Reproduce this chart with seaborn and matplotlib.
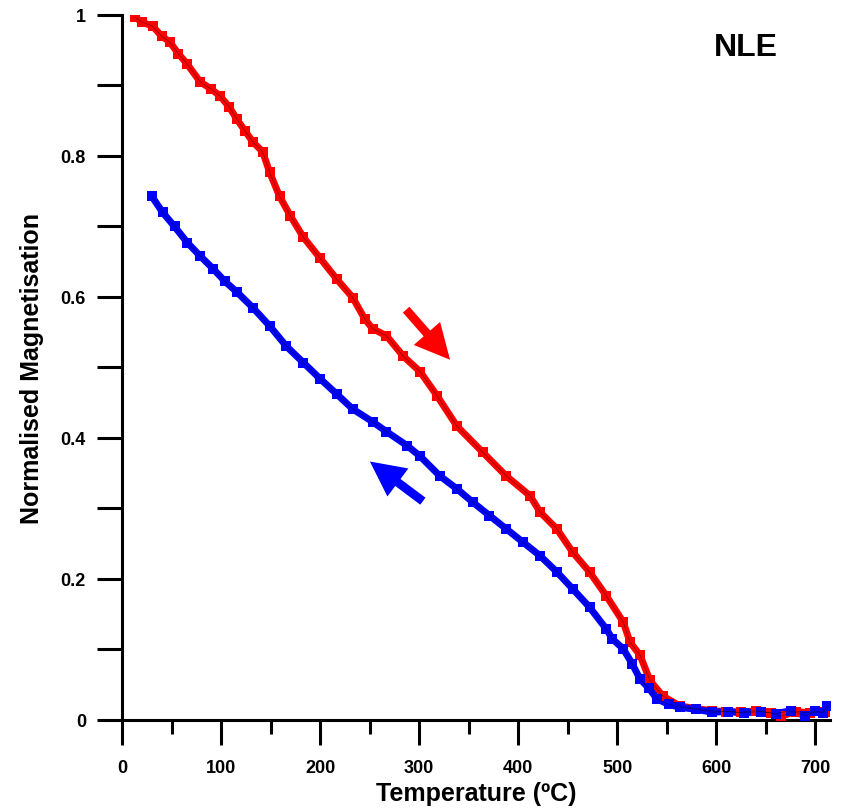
import matplotlib
matplotlib.use("Agg")
import matplotlib.pyplot as plt
from matplotlib.ticker import MultipleLocator
import seaborn as sns
import pandas as pd

# heating curve (red)
heat_temp = [13, 20, 31, 40, 48, 57, 66, 79, 90, 99, 108, 116, 124, 132, 142, 149,
             159, 170, 183, 200, 217, 233, 245, 253, 267, 284, 301, 318, 338, 364,
             388, 412, 422, 439, 455, 472, 489, 506, 513, 523, 533, 546, 563, 580,
             596, 610, 625, 640, 655, 665, 680, 695, 710]
heat_mag = [0.997, 0.99, 0.984, 0.97, 0.962, 0.945, 0.93, 0.905, 0.895, 0.885, 0.87,
            0.852, 0.836, 0.82, 0.806, 0.777, 0.743, 0.715, 0.685, 0.655, 0.625, 0.599,
            0.569, 0.555, 0.545, 0.516, 0.494, 0.46, 0.417, 0.38, 0.346, 0.318, 0.295,
            0.271, 0.238, 0.21, 0.176, 0.139, 0.11, 0.092, 0.056, 0.034, 0.02, 0.016,
            0.013, 0.012, 0.011, 0.013, 0.01, 0.005, 0.012, 0.01, 0.012]

# cooling curve (blue)
cool_temp = [30, 41, 53, 66, 79, 92, 104, 116, 132, 149, 166, 183, 200, 217, 233, 253,
             267, 288, 301, 321, 338, 354, 371, 388, 405, 422, 439, 455, 472, 489, 495,
             506, 515, 523, 532, 540, 552, 563, 580, 596, 612, 628, 645, 660, 675, 690,
             700, 708, 712]
cool_mag = [0.743, 0.72, 0.7, 0.677, 0.658, 0.64, 0.622, 0.607, 0.585, 0.559, 0.53,
            0.507, 0.484, 0.462, 0.441, 0.423, 0.409, 0.389, 0.374, 0.346, 0.328, 0.309,
            0.29, 0.271, 0.252, 0.233, 0.21, 0.186, 0.16, 0.129, 0.115, 0.101, 0.08,
            0.058, 0.045, 0.03, 0.022, 0.018, 0.015, 0.011, 0.012, 0.01, 0.012, 0.009,
            0.013, 0.006, 0.013, 0.01, 0.02]

sample_name = "NLE"

sns.set_theme(style="ticks")
plt.rcParams["font.family"] = ["Liberation Sans", "DejaVu Sans"]
for key in ["text.color", "axes.labelcolor", "xtick.color", "ytick.color", "axes.edgecolor"]:
    plt.rcParams[key] = "black"

df_heat = pd.DataFrame({"temp": heat_temp, "mag": heat_mag})
df_cool = pd.DataFrame({"temp": cool_temp, "mag": cool_mag})

fig = plt.figure(figsize=(8.48, 8.12), dpi=100)
ax = fig.add_axes([0.1439, 0.1121, 0.8351, 0.8682])

for df, col in [(df_heat, "#ff0000"), (df_cool, "#0000ff")]:
    sns.lineplot(data=df, x="temp", y="mag", ax=ax, color=col, lw=5, sort=False)
    sns.scatterplot(data=df, x="temp", y="mag", ax=ax, color=col, marker="s",
                    s=42, edgecolor=col, linewidth=0, zorder=3)
    sns.lineplot(data=df, x="temp", y="mag", ax=ax, color="black", lw=0.4,
                 sort=False, alpha=0.6, zorder=4)

# heating / cooling arrows
style = "simple,head_length=1.8,head_width=1.8,tail_width=0.45"
ax.annotate("", xy=(333, 0.508), xytext=(285, 0.585),
            arrowprops=dict(arrowstyle=style, color="#ff0000", lw=0, mutation_scale=14))
ax.annotate("", xy=(248, 0.369), xytext=(306, 0.308),
            arrowprops=dict(arrowstyle=style, color="#0000ff", lw=0, mutation_scale=14))

ax.text(630, 0.955, sample_name, fontsize=23, fontweight="bold", ha="center", va="center")

ax.set_xlim(0, 715)
ax.set_ylim(0, 1)
ax.xaxis.set_major_locator(MultipleLocator(100))
ax.xaxis.set_minor_locator(MultipleLocator(50))
ax.yaxis.set_minor_locator(MultipleLocator(0.1))
ax.set_yticks([0, 0.2, 0.4, 0.6, 0.8, 1.0])
ax.set_yticklabels(["0", "0.2", "0.4", "0.6", "0.8", "1"])

ax.tick_params(axis="x", which="major", length=18, width=2.2, direction="out",
               labelsize=13, pad=10)
ax.tick_params(axis="x", which="minor", length=10, width=2.2, direction="out")
ax.tick_params(axis="y", which="both", length=18, width=2.2, direction="out",
               labelsize=13, pad=8)
for lab in ax.get_xticklabels() + ax.get_yticklabels():
    lab.set_fontweight("bold")

sns.despine(ax=ax)
for side in ["left", "bottom"]:
    ax.spines[side].set_linewidth(2.2)

ax.set_xlabel("Temperature (ºC)", fontsize=18, fontweight="bold", labelpad=4)
ax.set_ylabel("Normalised Magnetisation", fontsize=18, fontweight="bold", labelpad=12)

fig.savefig("out.png", dpi=100)
